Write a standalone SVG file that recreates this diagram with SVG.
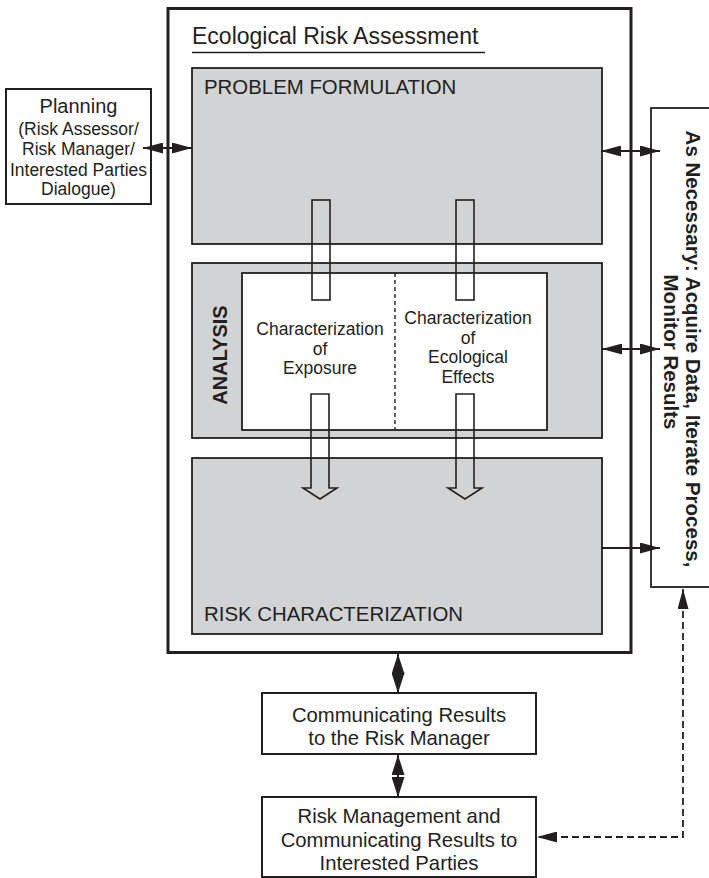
<svg xmlns="http://www.w3.org/2000/svg" width="709" height="878" viewBox="0 0 709 878">
<style>
  text { font-family: "Liberation Sans", Arial, Helvetica, sans-serif; fill: #231f20; }
  .box { fill: #ffffff; stroke: #231f20; stroke-width: 2; }
  .gray { fill: #d1d3d4; stroke: #231f20; stroke-width: 1.8; }
  .shaft { fill: none; stroke: #231f20; stroke-width: 1.6; }
  .conn { fill: none; stroke: #231f20; stroke-width: 2; }
  .dash { fill: none; stroke: #231f20; stroke-width: 1.8; stroke-dasharray: 7 4; }
  .hd { font-size: 20.4px; }
  .sm { font-size: 17.5px; }
  .md { font-size: 20.3px; }
  .bold { font-weight: bold; }
</style>
<defs>
  <marker id="ah" viewBox="0 0 20 11" refX="20" refY="5.5" markerWidth="20" markerHeight="11" markerUnits="userSpaceOnUse" orient="auto-start-reverse">
    <path d="M0,0 L20,5.5 L0,11 Z" fill="#231f20"/>
  </marker>
  <marker id="ahv" viewBox="0 0 20 13" refX="20" refY="6.5" markerWidth="20" markerHeight="13" markerUnits="userSpaceOnUse" orient="auto-start-reverse">
    <path d="M0,0 L20,6.5 L0,13 Z" fill="#231f20"/>
  </marker>
</defs>

<g id="era">
  <rect x="168" y="8.5" width="463" height="644" fill="#ffffff" stroke="#231f20" stroke-width="3"/>
  <text x="192" y="44" style="font-size:23px">Ecological Risk Assessment</text>
  <line x1="192" y1="52.5" x2="485" y2="52.5" stroke="#231f20" stroke-width="1.4"/>
</g>

<g id="problem-formulation">
  <rect class="gray" x="192" y="68" width="410" height="176"/>
  <text class="hd" x="204" y="94">PROBLEM FORMULATION</text>
</g>

<g id="analysis">
  <rect class="gray" x="192" y="263" width="410" height="175"/>
  <rect x="242" y="273" width="305" height="157" fill="#ffffff" stroke="#231f20" stroke-width="1.8"/>
  <line x1="395" y1="273" x2="395" y2="430" stroke="#231f20" stroke-width="1.4" stroke-dasharray="4 3"/>
  <text class="md bold" transform="translate(227,355) rotate(-90)" text-anchor="middle" style="font-size:20px">ANALYSIS</text>
</g>

<g id="exposure">
  <text class="sm" text-anchor="middle" x="320" y="335">Characterization</text>
  <text class="sm" text-anchor="middle" x="320" y="354.5">of</text>
  <text class="sm" text-anchor="middle" x="320" y="374">Exposure</text>
</g>

<g id="effects">
  <text class="sm" text-anchor="middle" x="468" y="324">Characterization</text>
  <text class="sm" text-anchor="middle" x="468" y="343.5">of</text>
  <text class="sm" text-anchor="middle" x="468" y="363">Ecological</text>
  <text class="sm" text-anchor="middle" x="468" y="383">Effects</text>
</g>

<g id="risk-characterization">
  <rect class="gray" x="192" y="458" width="410" height="176"/>
  <text class="hd" x="204" y="621">RISK CHARACTERIZATION</text>
</g>

<g id="planning">
  <rect class="box" x="6" y="89" width="145" height="115"/>
  <text text-anchor="middle" x="78.5" y="113" style="font-size:20px">Planning</text>
  <text class="sm" text-anchor="middle" x="78.5" y="135">(Risk Assessor/</text>
  <text class="sm" text-anchor="middle" x="78.5" y="155">Risk Manager/</text>
  <text class="sm" text-anchor="middle" x="78.5" y="175.5">Interested Parties</text>
  <text class="sm" text-anchor="middle" x="78.5" y="195">Dialogue)</text>
</g>

<g id="as-necessary">
  <rect x="651" y="108" width="80" height="479" fill="#ffffff" stroke="#231f20" stroke-width="1.8"/>
  <g transform="translate(686,349) rotate(90)">
    <text class="bold" text-anchor="middle" x="0" y="0" style="font-size:20.5px">As Necessary: Acquire Data, Iterate Process,</text>
    <text class="bold" text-anchor="middle" x="3" y="22" style="font-size:20.5px">Monitor Results</text>
  </g>
</g>

<g id="communicating">
  <rect class="box" x="262" y="693" width="274" height="61"/>
  <text class="md" text-anchor="middle" x="399" y="722">Communicating Results</text>
  <text class="md" text-anchor="middle" x="399" y="745">to the Risk Manager</text>
</g>

<g id="risk-management">
  <rect class="box" x="262" y="797" width="274" height="80"/>
  <text class="md" text-anchor="middle" x="399" y="823">Risk Management and</text>
  <text class="md" text-anchor="middle" x="399" y="847">Communicating Results to</text>
  <text class="md" text-anchor="middle" x="399" y="870">Interested Parties</text>
</g>

<g id="connectors">
  <rect class="shaft" x="312" y="200" width="18" height="100"/>
  <rect class="shaft" x="456" y="200" width="18" height="100"/>
  <path class="shaft" d="M311,394 L329,394 L329,488 L337,488 L320,499 L303,488 L311,488 Z"/>
  <path class="shaft" d="M456,394 L474,394 L474,488 L482,488 L465,499 L448,488 L456,488 Z"/>
  <line class="conn" x1="143" y1="148" x2="192" y2="148" marker-start="url(#ah)" marker-end="url(#ah)"/>
  <line class="conn" x1="601" y1="151" x2="660" y2="151" marker-start="url(#ah)" marker-end="url(#ah)"/>
  <line class="conn" x1="602" y1="349" x2="660" y2="349" marker-start="url(#ah)" marker-end="url(#ah)"/>
  <line class="conn" x1="602" y1="548" x2="660" y2="548" marker-end="url(#ah)"/>
  <line class="conn" x1="398" y1="654" x2="398" y2="693" marker-start="url(#ahv)" marker-end="url(#ahv)"/>
  <line class="conn" x1="398" y1="755" x2="398" y2="797" marker-start="url(#ahv)" marker-end="url(#ahv)"/>
  <path class="dash" d="M683,589 L683,837 L537,837" marker-start="url(#ah)" marker-end="url(#ah)"/>
</g>
</svg>
